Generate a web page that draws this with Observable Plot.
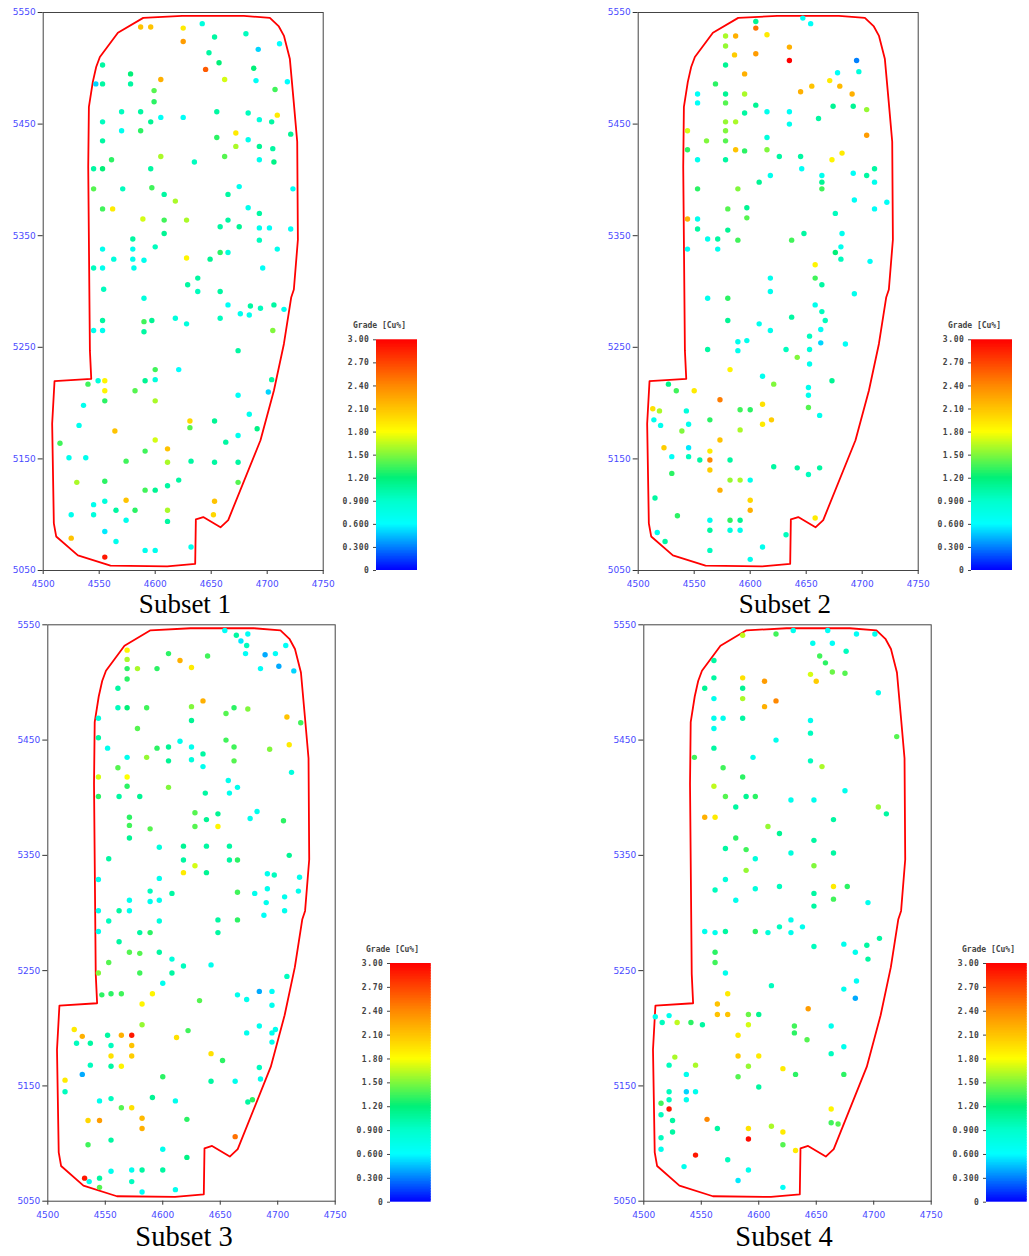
<!DOCTYPE html>
<html><head><meta charset="utf-8">
<script src="https://cdn.jsdelivr.net/npm/d3@7"></script>
<script src="https://cdn.jsdelivr.net/npm/@observablehq/plot@0.6"></script>
<style>
body{margin:0;background:#fff;width:1029px;height:1256px;position:relative;overflow:hidden}
.abs{position:absolute}
svg{max-width:none !important}
.cap{font-family:"Liberation Serif","Times New Roman",serif;color:#000;text-align:center;white-space:nowrap}
.ltitle{font-family:"DejaVu Sans Mono",monospace;font-size:8px;font-weight:bold;color:#444;line-height:10px;white-space:nowrap}
.panel svg [aria-label^="x-axis"] text,.panel svg [aria-label^="y-axis"] text{fill:#4a4aff}
.panel svg [aria-label^="x-axis"] path,.panel svg [aria-label^="y-axis"] path,.panel svg [aria-label^="x-axis"] line,.panel svg [aria-label^="y-axis"] line{stroke:#333}
.leg svg text{fill:#444}
</style></head><body>
<script>
// [x (m), y (m), grade Cu%]
const subset1 = [[4587,5537,2.1],[4596,5537,2.1],[4625,5536,1.9],[4642,5540,0.8],[4625,5524,2.3],[4653,5528,1.05],[4681,5531,0.95],[4711,5522,0.6],[4692,5517,0.5],[4648,5514,1.05],[4657,5505,1.2],[4645,5499,2.6],[4688,5500,1.2],[4553,5503,1.05],[4578,5495,1.2],[4605,5490,2.2],[4662,5490,1.7],[4690,5489,0.65],[4718,5488,0.6],[4547,5486,0.5],[4553,5486,1.05],[4578,5486,1.05],[4599,5480,1.4],[4707,5481,1.35],[4599,5470,1.3],[4570,5461,0.95],[4587,5461,1.05],[4605,5456,0.65],[4625,5456,0.65],[4655,5461,1.05],[4683,5460,0.95],[4709,5458,1.9],[4553,5452,0.95],[4596,5452,1.1],[4693,5454,0.8],[4704,5452,1.05],[4570,5444,0.7],[4587,5444,1.3],[4672,5442,1.9],[4721,5441,1.1],[4553,5435,1.05],[4655,5438,1.3],[4672,5430,1.6],[4683,5436,0.7],[4693,5430,1.1],[4705,5428,1.05],[4605,5421,1.6],[4662,5421,1.4],[4561,5418,1.3],[4635,5416,0.95],[4693,5418,0.7],[4706,5416,1.15],[4545,5410,1.05],[4553,5410,1.2],[4596,5410,1.05],[4545,5392,1.4],[4571,5392,0.95],[4597,5393,1.35],[4675,5394,0.7],[4723,5392,0.65],[4608,5387,1.05],[4665,5387,1.05],[4618,5381,1.6],[4553,5374,1.35],[4562,5374,1.9],[4683,5375,0.7],[4693,5370,1.05],[4589,5365,1.7],[4608,5364,1.35],[4628,5364,1.6],[4665,5364,1.05],[4658,5358,1.05],[4675,5358,1.1],[4693,5357,0.7],[4702,5357,0.65],[4721,5356,0.65],[4580,5347,1.05],[4608,5352,1.1],[4693,5346,0.95],[4553,5338,0.7],[4580,5338,0.7],[4600,5340,0.95],[4709,5338,0.7],[4563,5329,0.8],[4580,5329,0.7],[4590,5328,0.7],[4628,5330,1.85],[4649,5329,1.1],[4658,5335,1.3],[4665,5335,0.8],[4545,5321,0.95],[4553,5321,0.7],[4581,5321,0.7],[4696,5321,0.65],[4638,5312,1.05],[4629,5306,1.05],[4554,5302,0.95],[4638,5300,0.95],[4658,5300,1.05],[4590,5294,0.8],[4665,5288,0.65],[4685,5287,1.05],[4694,5285,0.95],[4706,5288,1.05],[4715,5284,0.7],[4676,5280,0.7],[4684,5279,0.7],[4658,5276,0.95],[4618,5276,0.8],[4628,5271,0.8],[4553,5274,1.05],[4597,5274,1.1],[4590,5273,1.35],[4545,5265,0.7],[4553,5265,0.7],[4590,5264,1.05],[4705,5265,1.5],[4674,5247,1.05],[4621,5230,0.6],[4600,5230,1.35],[4549,5220,0.8],[4555,5220,1.85],[4540,5217,1.35],[4591,5220,1.1],[4600,5221,0.8],[4704,5221,1.05],[4555,5211,1.85],[4582,5211,1.4],[4674,5207,0.65],[4701,5210,0.5],[4555,5202,1.3],[4600,5202,1.6],[4536,5198,0.7],[4532,5180,0.7],[4564,5175,2.1],[4631,5184,2.0],[4631,5178,1.4],[4653,5184,1.1],[4684,5190,0.7],[4691,5177,1.15],[4674,5171,0.7],[4663,5165,1.05],[4600,5167,1.7],[4515,5164,1.35],[4611,5159,2.1],[4591,5157,1.35],[4523,5151,0.7],[4538,5151,0.7],[4574,5148,1.35],[4611,5147,1.6],[4632,5148,1.05],[4653,5147,1.05],[4674,5147,1.05],[4530,5129,1.6],[4555,5130,1.3],[4621,5131,1.05],[4611,5126,1.05],[4674,5129,1.4],[4591,5122,1.35],[4600,5122,1.1],[4545,5109,0.7],[4555,5112,0.8],[4574,5113,2.1],[4653,5112,2.1],[4565,5104,1.05],[4582,5104,1.3],[4611,5104,1.6],[4525,5100,0.7],[4545,5100,0.8],[4574,5095,0.7],[4611,5094,1.05],[4652,5100,2.0],[4555,5085,0.55],[4525,5079,2.1],[4565,5076,0.7],[4632,5071,0.7],[4591,5068,0.7],[4600,5068,0.7],[4555,5062,2.9]];

const subset2 = [[4605,5542,1.1],[4647,5545,0.65],[4654,5540,0.65],[4605,5536,2.5],[4578,5529,1.6],[4587,5529,2.2],[4615,5530,1.9],[4635,5519,2.2],[4578,5520,1.55],[4586,5512,2.05],[4605,5513,2.3],[4635,5507,3.0],[4695,5507,0.3],[4578,5503,1.1],[4595,5495,2.2],[4678,5496,0.65],[4697,5497,0.8],[4671,5489,1.9],[4680,5484,2.15],[4655,5484,2.1],[4645,5479,2.2],[4691,5477,2.2],[4569,5486,1.3],[4553,5477,0.65],[4578,5477,1.1],[4595,5477,1.6],[4553,5469,0.65],[4578,5469,1.4],[4605,5467,1.1],[4595,5460,1.05],[4615,5461,0.7],[4635,5461,0.65],[4674,5466,1.1],[4692,5466,1.1],[4704,5463,1.55],[4661,5455,1.05],[4578,5452,1.55],[4587,5452,1.6],[4635,5450,0.7],[4544,5444,1.7],[4578,5444,1.5],[4561,5435,1.5],[4578,5435,1.4],[4615,5438,0.8],[4704,5440,2.3],[4544,5427,1.3],[4587,5427,2.1],[4595,5426,1.3],[4615,5427,1.5],[4626,5421,1.05],[4645,5421,1.05],[4682,5424,1.9],[4673,5418,1.85],[4553,5418,0.7],[4578,5418,1.05],[4646,5410,0.65],[4664,5404,0.7],[4618,5404,0.7],[4692,5406,0.65],[4704,5404,1.05],[4711,5410,1.05],[4664,5398,1.1],[4608,5398,1.1],[4711,5398,0.7],[4553,5392,1.3],[4589,5392,1.5],[4664,5392,1.35],[4693,5382,0.65],[4722,5380,0.65],[4597,5375,1.1],[4580,5374,1.4],[4711,5374,0.65],[4544,5365,2.2],[4553,5365,0.7],[4597,5366,1.4],[4676,5370,0.95],[4553,5356,1.05],[4580,5355,1.1],[4648,5352,1.05],[4682,5352,0.7],[4562,5347,0.7],[4571,5347,1.05],[4589,5346,1.35],[4637,5346,1.35],[4544,5338,0.65],[4571,5338,0.7],[4681,5340,0.7],[4676,5335,1.2],[4681,5329,0.95],[4707,5327,0.65],[4658,5324,1.85],[4618,5312,0.7],[4658,5312,1.35],[4664,5306,1.05],[4618,5300,0.7],[4693,5298,0.7],[4562,5294,0.7],[4580,5294,1.3],[4658,5288,0.7],[4664,5282,0.95],[4637,5277,1.05],[4667,5274,0.95],[4580,5274,1.1],[4608,5271,0.7],[4618,5265,0.7],[4663,5266,0.65],[4653,5260,0.95],[4589,5255,0.7],[4597,5256,0.7],[4663,5254,0.5],[4685,5253,0.65],[4562,5248,1.05],[4589,5247,0.7],[4632,5248,0.95],[4653,5248,0.8],[4642,5241,1.5],[4653,5235,0.7],[4582,5230,1.85],[4611,5224,0.7],[4673,5220,1.1],[4621,5217,1.5],[4527,5217,1.15],[4534,5211,1.35],[4550,5211,1.9],[4652,5214,0.7],[4652,5207,0.7],[4573,5203,2.45],[4611,5199,1.95],[4513,5195,1.95],[4519,5193,1.6],[4543,5193,0.8],[4591,5194,1.35],[4600,5194,1.3],[4652,5196,1.4],[4662,5189,0.7],[4514,5185,0.7],[4520,5180,0.7],[4545,5181,0.7],[4564,5185,1.3],[4619,5185,2.05],[4611,5181,1.9],[4539,5175,1.5],[4591,5176,1.6],[4523,5160,2.05],[4545,5160,0.55],[4573,5167,2.1],[4564,5157,1.9],[4530,5152,0.65],[4545,5152,0.95],[4555,5149,1.05],[4564,5149,2.4],[4582,5149,1.05],[4564,5140,2.05],[4530,5137,1.3],[4621,5143,1.05],[4642,5142,1.05],[4662,5142,1.05],[4652,5136,0.95],[4582,5131,1.55],[4591,5131,1.6],[4600,5131,0.7],[4573,5122,2.2],[4515,5115,1.05],[4600,5113,2.0],[4600,5104,2.2],[4535,5099,1.3],[4658,5097,1.9],[4564,5095,0.7],[4582,5095,1.3],[4591,5095,1.1],[4517,5084,0.7],[4564,5086,1.05],[4582,5086,0.8],[4591,5086,0.7],[4632,5082,0.95],[4524,5076,1.05],[4611,5071,0.7],[4564,5068,0.95],[4600,5060,0.7]];

const subset3 = [[4654,5545,0.65],[4664,5541,1.05],[4674,5542,0.65],[4668,5536,0.55],[4673,5532,0.95],[4569,5528,1.85],[4569,5520,1.6],[4605,5525,1.3],[4615,5519,2.2],[4639,5523,1.35],[4625,5513,1.9],[4672,5525,0.65],[4689,5524,0.4],[4698,5525,0.65],[4707,5532,0.65],[4701,5514,0.4],[4714,5510,0.5],[4685,5512,0.65],[4569,5512,1.3],[4578,5512,1.6],[4595,5512,1.3],[4569,5503,1.3],[4561,5495,1.05],[4635,5484,2.2],[4561,5478,0.95],[4569,5478,1.2],[4586,5478,1.35],[4625,5479,1.5],[4662,5478,1.3],[4674,5477,1.5],[4655,5473,1.4],[4625,5467,1.1],[4544,5469,0.8],[4708,5470,2.1],[4720,5465,1.35],[4578,5460,1.4],[4544,5452,1.05],[4552,5443,0.7],[4615,5449,0.7],[4655,5450,1.35],[4595,5443,1.3],[4605,5444,1.1],[4625,5444,0.7],[4635,5438,1.05],[4662,5444,1.35],[4693,5442,1.5],[4710,5446,1.9],[4569,5435,0.7],[4586,5435,1.55],[4605,5432,1.1],[4625,5433,0.8],[4662,5432,1.4],[4561,5426,1.4],[4635,5427,0.7],[4544,5418,1.7],[4569,5418,1.8],[4712,5422,0.8],[4657,5415,0.7],[4569,5410,1.3],[4605,5409,1.5],[4665,5409,0.7],[4544,5401,1.3],[4562,5401,1.05],[4580,5401,1.1],[4637,5404,1.05],[4658,5404,0.7],[4628,5387,1.4],[4648,5386,1.1],[4682,5388,0.7],[4676,5382,0.7],[4705,5380,1.3],[4571,5383,1.3],[4638,5381,1.1],[4628,5375,1.4],[4648,5375,1.85],[4571,5376,1.35],[4589,5373,1.4],[4571,5365,1.1],[4597,5357,0.8],[4618,5358,1.1],[4638,5358,1.05],[4658,5358,1.05],[4710,5350,1.1],[4553,5347,1.05],[4618,5346,1.05],[4658,5346,1.05],[4665,5346,1.3],[4628,5341,1.7],[4618,5335,1.9],[4638,5335,1.1],[4544,5329,0.7],[4691,5334,0.7],[4697,5333,0.95],[4719,5331,0.7],[4597,5330,0.7],[4691,5321,0.7],[4718,5319,0.7],[4589,5319,0.95],[4608,5317,1.05],[4665,5318,1.35],[4680,5317,0.7],[4706,5314,0.7],[4571,5311,0.7],[4589,5310,0.7],[4597,5311,0.7],[4690,5309,0.7],[4544,5302,0.7],[4562,5302,1.05],[4571,5302,0.7],[4706,5302,0.7],[4688,5298,0.65],[4553,5293,0.95],[4597,5293,0.8],[4648,5294,1.05],[4665,5294,1.3],[4544,5284,0.7],[4580,5283,1.05],[4589,5283,1.3],[4648,5283,1.05],[4562,5275,1.05],[4571,5266,1.4],[4580,5265,1.4],[4597,5266,1.05],[4608,5260,0.8],[4618,5254,0.95],[4642,5255,0.7],[4553,5257,1.4],[4544,5248,1.5],[4580,5248,1.35],[4608,5248,1.05],[4708,5245,0.95],[4600,5239,0.7],[4547,5229,1.3],[4555,5230,1.3],[4564,5230,1.35],[4591,5230,1.85],[4665,5229,0.7],[4684,5232,0.4],[4695,5232,0.65],[4673,5225,0.7],[4695,5220,0.7],[4632,5224,1.4],[4582,5221,1.85],[4582,5203,1.55],[4622,5198,1.35],[4523,5199,1.9],[4684,5202,0.7],[4698,5199,0.7],[4695,5196,0.7],[4673,5196,0.7],[4530,5193,2.2],[4552,5194,1.05],[4564,5194,2.2],[4573,5194,2.9],[4612,5192,1.95],[4525,5187,0.95],[4537,5187,1.05],[4555,5185,0.95],[4573,5185,2.1],[4695,5188,0.7],[4555,5176,1.95],[4573,5176,2.05],[4642,5178,1.95],[4652,5172,1.3],[4537,5168,0.95],[4555,5167,1.05],[4564,5167,1.85],[4684,5166,0.95],[4530,5160,0.4],[4600,5158,1.3],[4685,5156,0.7],[4515,5155,1.9],[4642,5154,1.05],[4663,5154,0.7],[4515,5145,0.95],[4545,5137,0.7],[4555,5139,0.95],[4591,5140,1.1],[4611,5137,0.7],[4674,5136,1.05],[4678,5138,1.3],[4564,5131,1.4],[4573,5131,1.95],[4535,5120,2.0],[4545,5120,2.3],[4582,5122,2.15],[4582,5113,2.2],[4621,5121,1.3],[4663,5106,2.5],[4555,5103,1.05],[4535,5099,1.35],[4600,5095,0.7],[4621,5088,1.15],[4555,5076,0.7],[4573,5077,0.7],[4582,5077,1.05],[4600,5077,1.05],[4532,5070,2.9],[4545,5070,1.05],[4536,5067,0.7],[4573,5067,0.95],[4545,5062,1.4],[4582,5058,0.65],[4611,5060,0.7]];

const subset4 = [[4586,5541,1.65],[4615,5542,1.35],[4630,5545,0.7],[4660,5545,0.65],[4685,5542,0.65],[4701,5542,0.7],[4647,5534,0.7],[4664,5534,0.65],[4676,5527,0.95],[4653,5523,1.35],[4658,5517,1.3],[4561,5519,1.05],[4645,5507,1.7],[4664,5509,1.45],[4675,5508,1.4],[4650,5501,2.05],[4561,5504,1.05],[4586,5504,1.95],[4605,5501,2.3],[4553,5495,1.1],[4586,5495,1.1],[4561,5486,0.7],[4586,5486,1.6],[4615,5484,2.4],[4605,5479,2.2],[4704,5491,0.7],[4561,5469,0.7],[4569,5469,0.7],[4586,5469,1.05],[4645,5467,0.7],[4561,5460,0.7],[4645,5456,0.95],[4615,5450,0.7],[4720,5453,1.4],[4561,5443,1.05],[4544,5435,1.35],[4595,5435,0.7],[4645,5432,0.95],[4569,5426,1.35],[4655,5427,1.6],[4586,5418,1.3],[4561,5410,1.65],[4571,5401,1.4],[4589,5401,1.1],[4597,5401,1.3],[4628,5398,0.7],[4648,5398,0.7],[4675,5406,0.7],[4580,5392,1.05],[4553,5383,2.2],[4562,5383,1.9],[4704,5392,1.55],[4711,5386,1.05],[4665,5381,1.05],[4608,5375,1.55],[4618,5369,1.1],[4580,5365,1.3],[4648,5363,1.05],[4571,5356,1.05],[4589,5355,1.35],[4628,5352,0.8],[4665,5352,1.05],[4597,5347,0.8],[4589,5337,1.55],[4648,5341,1.5],[4571,5329,0.8],[4562,5320,0.95],[4597,5321,0.8],[4618,5323,0.95],[4665,5323,1.9],[4677,5323,1.3],[4648,5317,1.05],[4580,5311,0.7],[4665,5312,1.35],[4695,5309,0.7],[4648,5306,1.05],[4628,5294,0.7],[4553,5284,0.7],[4562,5283,0.7],[4571,5284,1.05],[4597,5284,1.3],[4608,5283,0.8],[4618,5288,0.95],[4628,5283,0.7],[4638,5288,0.7],[4648,5271,0.95],[4674,5273,0.7],[4684,5266,0.7],[4694,5272,1.05],[4705,5278,1.05],[4695,5260,1.05],[4562,5266,1.3],[4562,5257,1.35],[4571,5248,0.7],[4611,5237,0.95],[4674,5234,0.7],[4685,5241,0.65],[4684,5226,0.4],[4573,5230,1.9],[4564,5221,2.1],[4564,5212,2.1],[4573,5212,2.1],[4643,5217,2.3],[4591,5212,1.45],[4600,5212,1.1],[4510,5210,0.7],[4522,5211,0.7],[4516,5205,0.95],[4529,5205,1.65],[4541,5205,1.3],[4551,5203,1.05],[4591,5203,1.7],[4631,5202,1.35],[4631,5196,1.3],[4642,5190,1.4],[4663,5202,0.7],[4582,5194,1.9],[4674,5184,0.7],[4527,5175,1.6],[4582,5176,2.05],[4600,5176,1.9],[4663,5178,0.95],[4522,5168,0.95],[4545,5168,1.6],[4591,5167,1.55],[4621,5165,1.9],[4537,5160,0.7],[4582,5158,1.4],[4632,5160,1.3],[4674,5160,1.3],[4600,5149,1.05],[4522,5145,0.95],[4537,5145,0.5],[4545,5145,0.7],[4522,5138,0.95],[4537,5138,0.7],[4515,5135,1.35],[4522,5130,2.9],[4515,5125,0.95],[4663,5130,1.85],[4525,5120,1.05],[4555,5121,2.4],[4663,5118,1.35],[4669,5117,1.4],[4611,5115,1.6],[4591,5113,1.95],[4564,5113,1.05],[4525,5110,1.05],[4621,5110,1.9],[4591,5104,2.95],[4515,5105,0.95],[4621,5099,1.4],[4515,5095,0.7],[4632,5094,1.9],[4545,5090,2.9],[4573,5086,0.95],[4535,5080,0.7],[4591,5077,0.7],[4582,5068,0.55],[4621,5062,0.65]];

// deposit outline
const boundaryX = [4540.2,4540.8,4544.3,4547.3,4550.6,4566.7,4589.3,4624.1,4679.2,4702.4,4710.4,4715,4720.2,4723.8,4726.8,4727.4,4723.8,4721.4,4714.9,4706,4694,4665.2,4658.3,4642.9,4636.3,4635.7,4610.7,4560.1,4531,4511.6,4509.5,4508,4510.1,4542.9,4541.7];
const boundaryY = [5411.9,5465.5,5487.8,5501.2,5510.1,5531.8,5545.2,5547,5547,5545.2,5537.5,5529,5508.6,5468.5,5434.2,5346.4,5301.8,5294.6,5253,5211.3,5166.7,5095.2,5088.7,5097.9,5095.8,5056,5053.7,5054.3,5063.5,5080.5,5092.3,5181.5,5219.6,5221.7,5247];

const xTicks = [4500,4550,4600,4650,4700,4750];
const yTicks = [5050,5150,5250,5350,5450,5550];
const gradeTicks = [0,0.3,0.6,0.9,1.2,1.5,1.8,2.1,2.4,2.7,3.0];
const gradeTickLabels = ["0","0.300","0.600","0.900","1.20","1.50","1.80","2.10","2.40","2.70","3.00"];
const colorStops = [0,0.6,0.9,1.2,1.8,2.4,3.0];
const colorRange = ["#0000ff","#00ffff","#00ffcc","#00f078","#ffff00","#ff8800","#ff0000"];
const legendTitle = "Grade [Cu%]";
const captions = ["Subset 1","Subset 2","Subset 3","Subset 4"];

const boundary = boundaryX.map((x,i)=>({x, y: boundaryY[i]}));
const colorScale = {type:"linear", domain: colorStops, range: colorRange, interpolate: "rgb"};

function place(node, left, top, cls) {
  const d = document.createElement("div");
  d.className = "abs " + (cls||"");
  d.style.left = left + "px"; d.style.top = top + "px";
  d.appendChild(node);
  document.body.appendChild(d);
}

function panel(data, o) {
  const svg = Plot.plot({
    width: o.w, height: o.h,
    marginLeft: o.ml, marginRight: o.w - o.fr, marginTop: o.mt, marginBottom: o.h - o.fb,
    style: {fontFamily: "DejaVu Sans, sans-serif", fontSize: "9px", background: "transparent", color: "#333", overflow: "visible"},
    x: {domain: [4500, 4750], ticks: xTicks, tickSize: 4, tickPadding: 6, tickFormat: d => String(d), label: null},
    y: {domain: [5050, 5550], ticks: yTicks, tickSize: 5, tickPadding: 2.5, tickFormat: d => String(d), label: null},
    color: colorScale,
    marks: [
      Plot.frame({stroke: "#444"}),
      Plot.line(boundary, {x: "x", y: "y", stroke: "#ff0000", strokeWidth: 1.8, curve: "linear-closed"}),
      Plot.dot(data, {x: d => d[0], y: d => d[1], fill: d => d[2], r: 2.7})
    ]
  });
  place(svg, o.left, o.top, "panel");
}

function legend(o) {
  const step = 0.02;
  const steps = d3.range(0, 3, step);
  const svg = Plot.plot({
    width: o.w, height: o.h,
    marginLeft: o.ml, marginRight: o.w - o.br, marginTop: o.mt, marginBottom: o.h - o.bb,
    style: {fontFamily: "DejaVu Sans Mono, monospace", fontSize: "8px", fontWeight: "bold", background: "transparent", color: "#444", letterSpacing: "0.6px", overflow: "visible"},
    x: {domain: [0, 1], axis: null},
    y: {domain: [0, 3], ticks: gradeTicks, tickSize: 3, tickPadding: 4, label: null,
        tickFormat: d => gradeTickLabels[gradeTicks.findIndex(t => Math.abs(t - d) < 1e-6)]},
    color: colorScale,
    marks: [
      Plot.rect(steps, {x1: () => 0, x2: () => 1, y1: d => d, y2: d => Math.min(3, d + step * 1.6), fill: d => d + step / 2})
    ]
  });
  place(svg, o.left, o.top, "leg");
  const t = document.createElement("div");
  t.className = "abs ltitle";
  t.style.left = o.tl + "px"; t.style.top = o.tt + "px";
  t.textContent = legendTitle;
  document.body.appendChild(t);
}

function caption(text, left, width, top, size) {
  const c = document.createElement("div");
  c.className = "abs cap";
  c.style.left = left + "px"; c.style.width = width + "px"; c.style.top = top + "px";
  c.style.fontSize = size + "px"; c.style.lineHeight = size + "px";
  c.textContent = text;
  document.body.appendChild(c);
}

// top row
panel(subset1, {left: 0, top: 0, w: 335, h: 600, ml: 42.7, fr: 322.7, mt: 12, fb: 570});
panel(subset2, {left: 595, top: 0, w: 335, h: 600, ml: 42.7, fr: 322.7, mt: 12, fb: 570});
// bottom row
panel(subset3, {left: 0, top: 612, w: 345, h: 612, ml: 47.3, fr: 334.7, mt: 12.3, fb: 588.7});
panel(subset4, {left: 596, top: 612, w: 345, h: 612, ml: 47.3, fr: 334.7, mt: 12.3, fb: 588.7});

legend({left: 330, top: 315, w: 95, h: 262, ml: 46, br: 87, mt: 24.3, bb: 255, tl: 353, tt: 320.5});
legend({left: 925, top: 315, w: 95, h: 262, ml: 46, br: 87, mt: 24.3, bb: 255, tl: 948, tt: 320.5});
legend({left: 344, top: 938, w: 95, h: 270, ml: 46, br: 86.7, mt: 25, bb: 263.7, tl: 366, tt: 944.5});
legend({left: 940, top: 938, w: 95, h: 270, ml: 46, br: 86.7, mt: 25, bb: 263.7, tl: 962, tt: 944.5});

caption(captions[0], 0, 370, 591, 27);
caption(captions[1], 600, 370, 591, 27);
caption(captions[2], 0, 368, 1223, 28.5);
caption(captions[3], 600, 368, 1223, 28.5);
</script>
</body></html>
